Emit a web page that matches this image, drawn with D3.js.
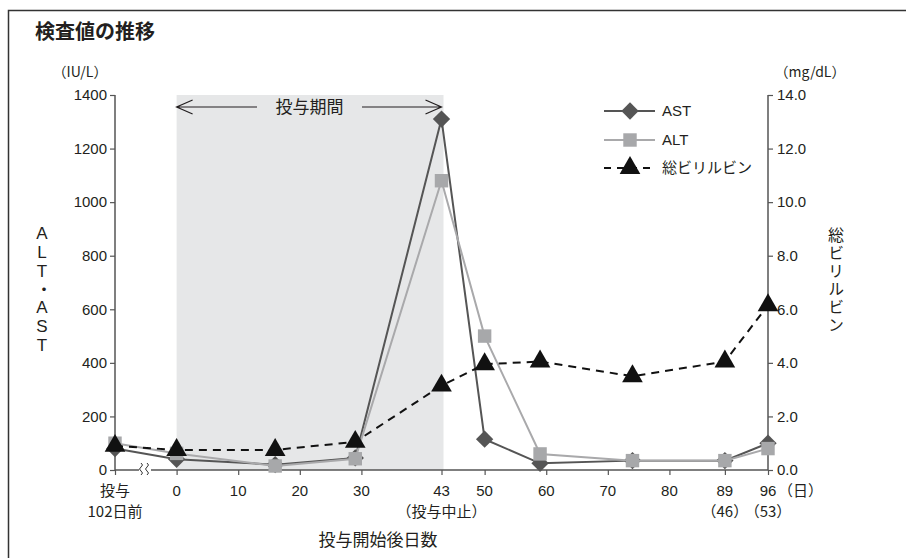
<!DOCTYPE html>
<html><head><meta charset="utf-8">
<script src="https://cdn.jsdelivr.net/npm/d3@7"></script>
<style>
body{margin:0;background:#fff}
text{font-family:"Liberation Sans","Noto Sans CJK JP",sans-serif;fill:#231f20}
.jp{font-family:"Noto Sans CJK JP",sans-serif}
</style></head><body>
<svg id="c" width="906" height="558"></svg>
<script>
// ---- data ----
const days = [-10, 0, 16, 29, 43, 50, 59, 74, 89, 96];   // -10 = 投与102日前 (axis break)
const ast  = [80, 40, 20, 45, 1310, 115, 25, 35, 35, 100];
const alt  = [100, 62, 15, 42, 1080, 500, 60, 35, 35, 80];
const bili = [0.9, 0.75, 0.75, 1.05, 3.15, 3.95, 4.05, 3.5, 4.05, 6.15];
const xTicks = [-10, 0, 10, 20, 30, 43, 50, 60, 70, 80, 89, 96];
const xTickLines = {"-10":["投与","102日前"], "43":["43","（投与中止）"], "89":["89","（46）"], "96":["96","（53）"]};
const yLeftTicks = [0,200,400,600,800,1000,1200,1400];
const yRightTicks = [0,2,4,6,8,10,12,14];
const seriesNames = ["AST","ALT","総ビリルビン"];
const period = [0, 43];

const svg = d3.select("#c");
const x = d3.scaleLinear().domain([-10, 96]).range([115, 768]);
const yL = d3.scaleLinear().domain([0, 1400]).range([470, 95]);
const yR = d3.scaleLinear().domain([0, 14]).range([470, 95]);

// frame
svg.append("path").attr("d","M8.5,558 V10.5 H906").attr("fill","none").attr("stroke","#333").attr("stroke-width",1.5);

// title
svg.append("text").attr("class","jp").attr("x",35).attr("y",39).attr("font-size",20).attr("font-weight","bold").text("検査値の推移");

// shaded period
svg.append("rect").attr("x",x(period[0])).attr("y",yL(1400)).attr("width",x(period[1])-x(period[0])+2).attr("height",yL(0)-yL(1400)).attr("fill","#e6e7e8");

// period arrow
const ay = 107, gx0 = 257, gx1 = 362;
const ag = svg.append("g").attr("stroke","#231f20").attr("stroke-width",1.2).attr("fill","none");
ag.append("path").attr("d",`M${x(period[0])},${ay} H${gx0} M${x(period[0])+16},${ay-7} L${x(period[0])},${ay} L${x(period[0])+16},${ay+7}`);
ag.append("path").attr("d",`M${gx1},${ay} H${x(period[1])} M${x(period[1])-16},${ay-7} L${x(period[1])},${ay} L${x(period[1])-16},${ay+7}`);
svg.append("text").attr("class","jp").attr("x",(gx0+gx1)/2).attr("y",ay+6).attr("text-anchor","middle").attr("font-size",17).text("投与期間");

// axes
const axL = svg.append("g").attr("transform","translate(115,0)").call(d3.axisLeft(yL).tickValues(yLeftTicks).tickSize(5).tickFormat(d3.format("d")));
const axR = svg.append("g").attr("transform","translate(768,0)").call(d3.axisRight(yR).tickValues(yRightTicks).tickSize(5).tickFormat(d3.format(".1f")));
const axB = svg.append("g").attr("transform","translate(0,470)").call(d3.axisBottom(x).tickValues(xTicks).tickSize(5).tickFormat(""));
[axL,axR,axB].forEach(a=>{
  a.select(".domain").attr("stroke","#555").attr("stroke-width",1.5);
  a.selectAll(".tick line").attr("stroke","#555").attr("stroke-width",1.2);
  a.selectAll(".tick text").attr("font-size",15).attr("fill","#231f20").style("font-family","Liberation Sans, Noto Sans CJK JP, sans-serif");
});
axL.select(".domain").attr("d","M0,470V95");
axR.select(".domain").attr("d","M0,470V95");
axB.select(".domain").attr("d","M115,0H768");
axL.selectAll(".tick text").attr("x",-8);
axR.selectAll(".tick text").attr("x",9);

// x tick labels
xTicks.forEach(t=>{
  const lines = xTickLines[t] || [String(t)];
  lines.forEach((s,i)=>{
    svg.append("text").attr("class", /[^\x00-\x7F]/.test(s)?"jp":null)
      .attr("x",x(t)).attr("y",496+i*21).attr("text-anchor","middle").attr("font-size",15).text(s);
  });
});
svg.append("text").attr("class","jp").attr("x",x(96)+10).attr("y",496).attr("font-size",15).text("（日）");

// break mark
const bx = 145;
svg.append("rect").attr("x",bx-6).attr("y",463).attr("width",12).attr("height",14).attr("fill","#fff");
[-3,3].forEach(o=>{
  svg.append("path").attr("d",`M${bx+o-1},463 q3,2 0,4 q-3,2 0,4 q3,2 0,4`).attr("fill","none").attr("stroke","#333").attr("stroke-width",1);
});

// unit labels
svg.append("text").attr("class","jp").attr("x",80).attr("y",77).attr("text-anchor","middle").attr("font-size",14).text("（IU/L）");
svg.append("text").attr("class","jp").attr("x",810).attr("y",77).attr("text-anchor","middle").attr("font-size",14).text("（mg/dL）");

// axis titles (vertical)
svg.append("text").attr("x",42).attr("y",224).attr("font-size",17)
  .style("writing-mode","vertical-rl").style("text-orientation","upright").style("font-family","Liberation Sans, Noto Sans CJK JP, sans-serif")
  .text("ALT・AST");
svg.append("text").attr("class","jp").attr("x",836).attr("y",227).attr("font-size",16).attr("letter-spacing",2)
  .style("writing-mode","vertical-rl").text("総ビリルビン");
svg.append("text").attr("class","jp").attr("x",378).attr("y",546).attr("text-anchor","middle").attr("font-size",17).text("投与開始後日数");

// series
const diamond = d3.symbol().type(d3.symbolSquare).size(150);
const square = d3.symbol().type(d3.symbolSquare2).size(230);
const tri = d3.symbol().type(d3.symbolTriangle).size(185);

const lineL = d3.line().x((d,i)=>x(days[i])).y(d=>yL(d));
const lineR = d3.line().x((d,i)=>x(days[i])).y(d=>yR(d));

function series(vals, line, ys, col, dash, sym, mcol, rot){
  svg.append("path").datum(vals).attr("d",line).attr("fill","none").attr("stroke",col).attr("stroke-width",2).attr("stroke-dasharray",dash);
  svg.selectAll(null).data(vals).enter().append("path").attr("d",sym)
    .attr("transform",(d,i)=>`translate(${x(days[i])},${ys(d)})${rot?" rotate(45)":""}`).attr("fill",mcol);
}
series(ast, lineL, yL, "#555555", null, diamond, "#555555", true);
series(alt, lineL, yL, "#a9a9ab", null, square, "#a7a8aa", false);
series(bili, lineR, yR, "#111", "8,6", tri, "#111", false);

// legend
const lg = [{n:seriesNames[0],col:"#555555",dash:null,sym:diamond,rot:true,y:111},
            {n:seriesNames[1],col:"#a9a9ab",dash:null,sym:square,rot:false,y:140},
            {n:seriesNames[2],col:"#111",dash:"7,6",sym:tri,rot:false,y:168}];
lg.forEach(l=>{
  svg.append("line").attr("x1",604).attr("x2",655).attr("y1",l.y).attr("y2",l.y).attr("stroke",l.col).attr("stroke-width",2).attr("stroke-dasharray",l.dash);
  svg.append("path").attr("d",l.sym).attr("transform",`translate(630,${l.y})${l.rot?" rotate(45)":""}`).attr("fill",l.col==="#a9a9ab"?"#a7a8aa":l.col);
  svg.append("text").attr("class",/[^\x00-\x7F]/.test(l.n)?"jp":null).attr("x",662).attr("y",l.y+5).attr("font-size",15).text(l.n);
});
</script></body></html>
